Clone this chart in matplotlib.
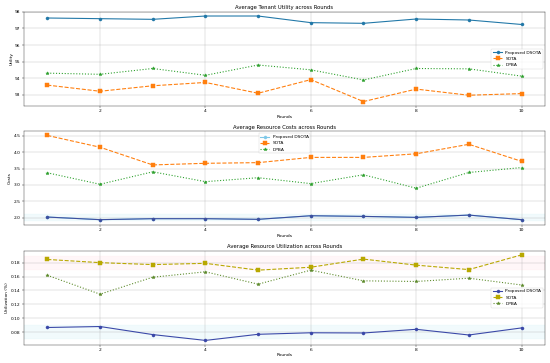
import matplotlib.pyplot as plt

rounds = [1, 2, 3, 4, 5, 6, 7, 8, 9, 10]

# tenant utility
utility_dsota = [97.63, 97.59, 97.55, 97.75, 97.75, 97.35, 97.31, 97.57, 97.51, 97.24]
utility_sota = [93.59, 93.22, 93.55, 93.75, 93.10, 93.92, 92.60, 93.35, 92.98, 93.08]
utility_dpba = [94.31, 94.24, 94.59, 94.18, 94.80, 94.51, 93.90, 94.59, 94.57, 94.13]

# resource costs
cost_dsota = [2.02, 1.94, 1.97, 1.97, 1.95, 2.06, 2.04, 2.01, 2.08, 1.94]
cost_sota = [4.51, 4.15, 3.61, 3.66, 3.68, 3.84, 3.84, 3.95, 4.24, 3.72]
cost_dpba = [3.37, 3.02, 3.40, 3.10, 3.22, 3.04, 3.31, 2.90, 3.38, 3.53]

# resource utilization
util_dsota = [0.0866, 0.0880, 0.0764, 0.0680, 0.0768, 0.0790, 0.0787, 0.0840, 0.0758, 0.0860]
util_sota = [0.1846, 0.1800, 0.1772, 0.1790, 0.1692, 0.1734, 0.1851, 0.1764, 0.1700, 0.1912]
util_dpba = [0.1618, 0.1346, 0.1590, 0.1668, 0.1490, 0.1692, 0.1538, 0.1529, 0.1576, 0.1478]

labels = ['Proposed DSOTA', 'SOTA', 'DPBA']

W = 17.5
fig = plt.figure(figsize=(W, W * 363 / 550))

# Plot 1 - utility
ax1 = plt.subplot(3, 1, 1)
ax1.plot(rounds, utility_dsota, marker='o', linestyle='-', color='#2178a8', linewidth=2.5, markersize=7, label=labels[0])
ax1.plot(rounds, utility_sota, marker='s', linestyle='--', color='#ff7f0e', linewidth=2.5, markersize=7, label=labels[1])
ax1.plot(rounds, utility_dpba, marker='*', linestyle=':', color='#2ca02c', linewidth=2.5, markersize=8, label=labels[2])
ax1.set_title('Average Tenant Utility across Rounds')
ax1.set_xlabel('Rounds')
ax1.set_ylabel('Utility')
ax1.legend(loc='center right')
ax1.grid(True)

# Plot 2 - costs
ax2 = plt.subplot(3, 1, 2)
ax2.axhspan(1.9, 2.1, color='#7fd6e8', alpha=0.1)
ax2.plot(rounds, cost_dsota, marker='o', linestyle='-', color='#7ec8e8', linewidth=2.5, markersize=7, label=labels[0])
ax2.plot(rounds, cost_dsota, marker='o', linestyle='-', color='#3d4f9f', linewidth=2.5, markersize=7)
ax2.plot(rounds, cost_sota, marker='s', linestyle='--', color='#ff7f0e', linewidth=2.5, markersize=7, label=labels[1])
ax2.plot(rounds, cost_dpba, marker='*', linestyle=':', color='#2ca02c', linewidth=2.5, markersize=8, label=labels[2])
ax2.set_title('Average Resource Costs across Rounds')
ax2.set_xlabel('Rounds')
ax2.set_ylabel('Costs')
ax2.legend(loc='upper center')
ax2.grid(True)

# Plot 3 - utilization
ax3 = plt.subplot(3, 1, 3)
ax3.axhspan(0.17, 0.19, color='#ffb0c0', alpha=0.1)
ax3.axhspan(0.07, 0.09, color='#7fd6e8', alpha=0.1)
ax3.plot(rounds, util_dsota, marker='o', linestyle='-', color='#3a48a8', linewidth=2.5, markersize=7, label=labels[0])
ax3.plot(rounds, util_sota, marker='s', linestyle='--', color='#b8a800', linewidth=2.5, markersize=7, label=labels[1])
ax3.plot(rounds, util_dpba, marker='*', linestyle=':', color='#5c8a2a', linewidth=2.5, markersize=8, label=labels[2])
ax3.set_title('Average Resource Utilization across Rounds')
ax3.set_xlabel('Rounds')
ax3.set_ylabel('Utilization (%)')
ax3.legend(loc='center right')
ax3.grid(True)

plt.tight_layout()
plt.savefig('out.png', dpi=550 / W)
